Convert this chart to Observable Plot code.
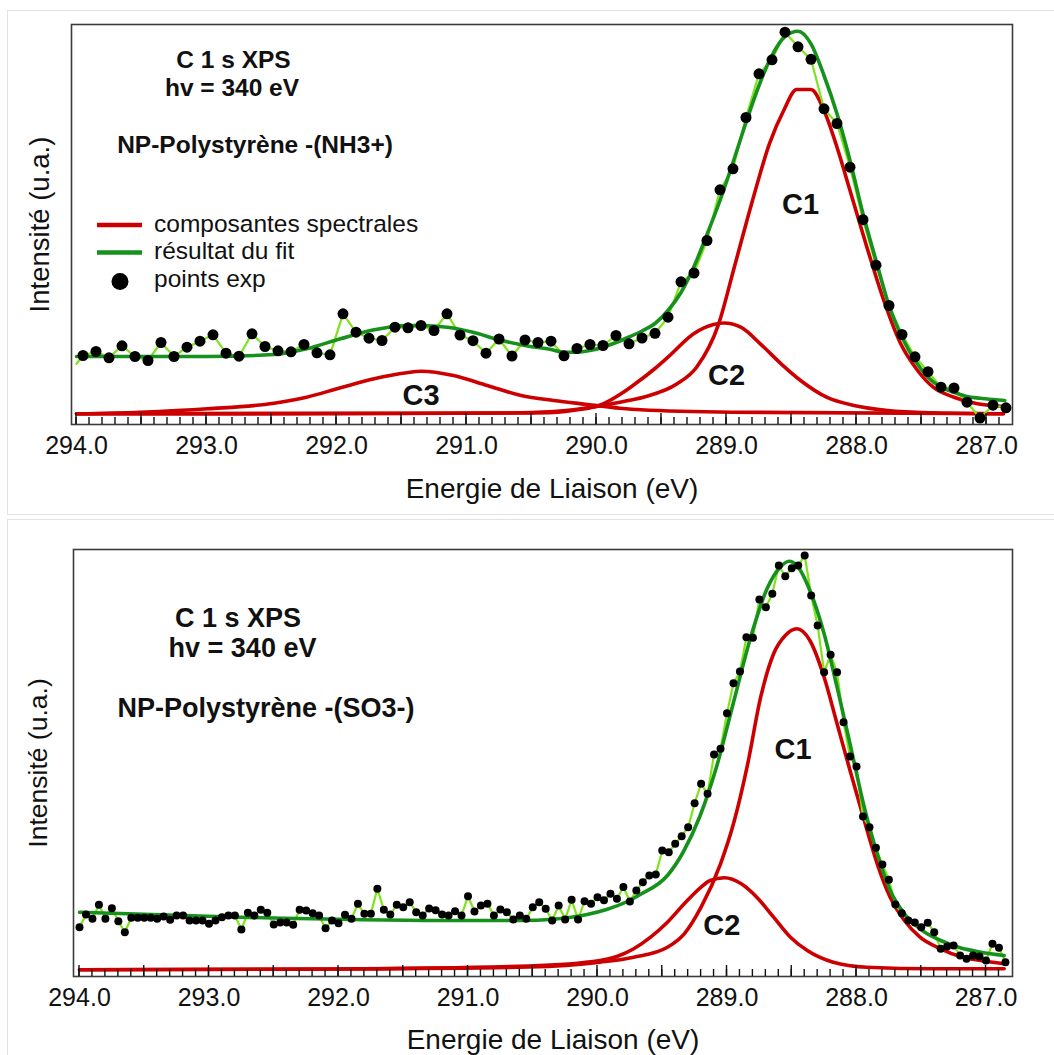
<!DOCTYPE html>
<html>
<head>
<meta charset="utf-8">
<script src="https://cdn.jsdelivr.net/npm/d3@7"></script>
<script src="https://cdn.jsdelivr.net/npm/@observablehq/plot@0.6"></script>
<style>
  html, body { margin: 0; padding: 0; background: #fff; overflow: hidden; }
  #wrap { position: relative; width: 1054px; height: 1055px; overflow: hidden; }
  .box { position: absolute; left: 7px; width: 1060px; border: 1px solid #e2e2e2; box-sizing: border-box; }
  #wrap svg { position: absolute; left: 0; }
</style>
</head>
<body>
<div id="wrap">
  <div class="box" style="top:10px;height:505px;"></div>
  <div class="box" style="top:519px;height:600px;"></div>
</div>
<script>
// ---------------- DATA ----------------
const axisTitle = "Energie de Liaison (eV)";
const yTitle = "Intensité (u.a.)";
const legendLabels = ["composantes spectrales", "résultat du fit", "points exp"];
const headerTop = ["C 1 s XPS", "hv = 340 eV", "NP-Polystyrène -(NH3+)"];
const headerBot = ["C 1 s XPS", "hv = 340 eV", "NP-Polystyrène -(SO3-)"];

const tickLabels = [294, 293, 292, 291, 290, 289, 288, 287];
const majorTicks = [294, 293.5, 293, 292.5, 292, 291.5, 291, 290.5, 290, 289.5, 289, 288.5, 288, 287.5, 287];
const minorTicks = [294.0, 293.9, 293.8, 293.7, 293.6, 293.5, 293.4, 293.3, 293.2, 293.1,
  293.0, 292.9, 292.8, 292.7, 292.6, 292.5, 292.4, 292.3, 292.2, 292.1,
  292.0, 291.9, 291.8, 291.7, 291.6, 291.5, 291.4, 291.3, 291.2, 291.1,
  291.0, 290.9, 290.8, 290.7, 290.6, 290.5, 290.4, 290.3, 290.2, 290.1,
  290.0, 289.9, 289.8, 289.7, 289.6, 289.5, 289.4, 289.3, 289.2, 289.1,
  289.0, 288.9, 288.8, 288.7, 288.6, 288.5, 288.4, 288.3, 288.2, 288.1,
  288.0, 287.9, 287.8, 287.7, 287.6, 287.5, 287.4, 287.3, 287.2, 287.1,
  287.0, 286.9];

// Top panel: NP-Polystyrène -(NH3+)
const eTop = [293.95, 293.85, 293.75, 293.65, 293.55, 293.45, 293.35, 293.25, 293.15, 293.05,
  292.95, 292.85, 292.75, 292.65, 292.55, 292.45, 292.35, 292.25, 292.15, 292.05,
  291.95, 291.85, 291.75, 291.65, 291.55, 291.45, 291.35, 291.25, 291.15, 291.05,
  290.95, 290.85, 290.75, 290.65, 290.55, 290.45, 290.35, 290.25, 290.15, 290.05,
  289.95, 289.85, 289.75, 289.65, 289.55, 289.45, 289.35, 289.25, 289.15, 289.05,
  288.95, 288.85, 288.75, 288.65, 288.55, 288.45, 288.35, 288.25, 288.15, 288.05,
  287.95, 287.85, 287.75, 287.65, 287.55, 287.45, 287.35, 287.25, 287.15, 287.05,
  286.95, 286.85];
const vTop = [69, 73, 66.7, 78.7, 68, 64, 82, 68, 77.3, 83.3,
  89.7, 71.3, 68.3, 90.7, 78, 73.7, 72.7, 80, 71.7, 69.7,
  110.7, 92.3, 86.3, 84, 97.3, 96.7, 99, 94, 110.7, 89.5,
  83.8, 71.3, 85.5, 68.5, 84.5, 82, 83.3, 68.7, 76, 80,
  79, 89, 80.7, 86.5, 91.2, 107.3, 142.7, 151.5, 184, 234.7,
  255.7, 307, 350.7, 364.7, 392.3, 377.7, 365.2, 315.7, 301, 257.3,
  204.8, 159.3, 119, 90, 67.7, 52.8, 37.3, 36.5, 22.3, 6.5,
  19.3, 16.7];
// the connecting line of the top spectrum starts at the frame edge
const leadTop = [294.0, 60.7];
const fitTop = [[294.00,68],[293.50,68],[293.00,68],[292.48,70],[292.23,75.7],[291.97,85.7],[291.71,94.7],
  [291.46,99],[291.35,99],[291.15,97.3],[290.95,92.3],[290.75,84.7],[290.55,79],[290.35,75],[290.25,72.3],
  [290.15,72.3],[290.05,74],[289.95,77.3],[289.85,82],[289.75,87.5],[289.65,93.5],[289.55,101],[289.45,114],
  [289.35,132],[289.25,158],[289.15,190],[289.05,224],[288.95,262],[288.85,302],[288.75,339],[288.65,369],
  [288.55,388],[288.45,393.3],[288.35,380.7],[288.25,349],[288.15,310.7],[288.05,264],[287.95,210.7],
  [287.85,164],[287.75,119],[287.65,87.3],[287.55,64],[287.45,47.3],[287.35,37.3],[287.25,32.3],
  [287.15,28],[287.05,26.3],[286.95,25],[286.86,24]];
const c1Top = [[294.00,10.7],[290.74,11.5],[290.33,13],[290.00,18],[289.82,22.3],[289.64,27.3],[289.38,40.7],
  [289.23,57.3],[289.06,100.7],[288.94,157.3],[288.80,224],[288.67,280.7],[288.56,314],[288.46,335],[288.35,335],
  [288.25,314],[288.15,277.3],[288.05,234],[287.92,177.3],[287.79,124],[287.66,80.7],[287.53,54],[287.41,37.3],
  [287.25,27.3],[287.07,20.7],[286.86,18]];
const c2Top = [[294.00,10.7],[291.51,11],[290.58,11.5],[290.33,12],[290.16,14.5],[289.97,19.5],[289.82,30],
  [289.72,39],[289.55,56],[289.45,67.3],[289.25,91],[289.10,100],[289.02,101.5],[288.89,97.3],[288.74,80.7],
  [288.58,60.7],[288.43,44],[288.23,27.3],[288.02,19],[287.76,14],[287.41,11.7],[286.87,10.7]];
const c3Top = [[294.00,10.7],[293.51,12.3],[292.99,15.7],[292.48,21.3],[292.23,27.3],[291.97,36.7],[291.71,45.7],
  [291.46,51.7],[291.35,53.3],[291.10,49],[290.84,39],[290.58,29],[290.33,24],[290.07,20],[289.82,16.3],
  [289.66,14.7],[288.95,12.3],[286.87,10.7]];

// Bottom panel: NP-Polystyrène -(SO3-)
const eBot = [294.00,293.95,293.90,293.85,293.80,293.75,293.70,293.65,293.60,293.55,293.50,293.45,293.40,293.35,293.30,293.25,293.20,293.15,293.10,293.05,
  293.00,292.95,292.90,292.85,292.80,292.75,292.70,292.65,292.60,292.55,292.50,292.45,292.40,292.35,292.30,292.25,292.20,292.15,292.10,292.05,
  292.00,291.95,291.90,291.85,291.80,291.75,291.70,291.65,291.60,291.55,291.50,291.45,291.40,291.35,291.30,291.25,291.20,291.15,291.10,291.05,
  291.00,290.95,290.90,290.85,290.80,290.75,290.70,290.65,290.60,290.55,290.50,290.45,290.40,290.35,290.30,290.25,290.20,290.15,290.10,290.05,
  290.00,289.95,289.90,289.85,289.80,289.75,289.70,289.65,289.60,289.55,289.50,289.45,289.40,289.35,289.30,289.25,289.20,289.15,289.10,289.05,
  289.00,288.95,288.90,288.85,288.80,288.75,288.70,288.65,288.60,288.55,288.50,288.45,288.40,288.35,288.30,288.25,288.20,288.15,288.10,288.05,
  288.00,287.95,287.90,287.85,287.80,287.75,287.70,287.65,287.60,287.55,287.50,287.45,287.40,287.35,287.30,287.25,287.20,287.15,287.10,287.05,
  287.00,286.95,286.90,286.85];
const vBot = [49.3, 62, 57.7, 71.7, 57.7, 68.3, 55.3, 44.3, 58.7, 58.7, 58.7, 58.7, 57.7, 60, 56.7, 61, 61, 56, 56, 56,
  52.7, 56, 59.3, 61, 61, 47, 63.7, 61, 66.7, 63.7, 52, 54, 54, 51.7, 66.7, 66, 63.3, 61, 48.3, 56,
  53.3, 61.7, 57.7, 72.7, 62.7, 62.7, 87.7, 66.7, 62, 71.7, 69.3, 74.3, 64.3, 61, 68, 66.3, 62, 61, 65.3, 61,
  80.3, 65, 71, 72.7, 61, 67, 64.3, 57, 61, 57.7, 69.3, 74.3, 67.7, 56, 71, 57, 76.7, 57, 75.3, 72.7,
  79.3, 76.3, 82.7, 77.7, 89.5, 75, 86, 94.3, 101, 102, 126, 124.3, 132.7, 140.3, 149.3, 173.3, 192.7, 182.7, 222, 227.7,
  263.3, 293.3, 305, 339.3, 338.7, 377, 369.3, 382.7, 411, 400.3, 408.3, 411, 421, 381, 351, 304.3, 321.7, 304.3, 254.3, 220,
  210, 160, 149.3, 128.7, 112, 96.7, 72, 63.3, 56, 54, 49.3, 53.7, 44.3, 27.7, 30, 31, 21, 17.7, 21, 20,
  16, 32.7, 28.7, 14.3];
const fitBot = [[294.00,64.3],[292.76,59.3],[291.21,56],[290.59,56],[290.34,57.3],[290.08,62],[289.93,67],
  [289.77,75],[289.67,82],[289.46,101],[289.34,124],[289.21,160],[289.08,210],[288.95,274],
  [288.82,338],[288.69,388],[288.59,409.3],[288.52,415.3],[288.46,411],[288.36,386],[288.25,342.7],
  [288.15,289.3],[288.05,232.7],[287.94,169.3],[287.84,122.7],[287.74,86],[287.63,62.7],[287.51,47.7],
  [287.35,36],[287.20,28.7],[287.04,24.3],[286.86,21]];
const c1Bot = [[294.00,6.7],[292.00,7.5],[290.53,9.5],[289.98,14.3],[289.72,19.3],[289.46,29.3],[289.33,42.7],
  [289.20,69.3],[289.05,112.7],[288.95,152.7],[288.84,212.7],[288.74,279.3],[288.64,322.7],[288.55,341],
  [288.46,347.7],[288.36,336],[288.25,299.3],[288.15,252.7],[288.05,206],[287.94,156],[287.84,112.7],
  [287.74,79.3],[287.63,56],[287.51,39.3],[287.35,27.7],[287.20,20],[287.04,16],[286.86,12.7]];
const c2Bot = [[294.00,6.7],[292.00,7.5],[290.53,10.5],[289.98,16],[289.85,20],[289.72,27.7],[289.59,39.3],
  [289.46,54.3],[289.33,72.7],[289.20,89.3],[289.13,96],[289.02,98.7],[288.89,92.7],[288.77,79.3],
  [288.64,59.3],[288.51,39.3],[288.38,26],[288.18,14.3],[287.92,9.3],[287.40,7.7],[286.86,7.7]];

// ---------------- DRAW ----------------
(function () {
const FONT = "'Liberation Sans', Arial, Helvetica, sans-serif";
const RED = "#cc0000", FIT = "#15911c", LINEG = "#7fe31a", INK = "#111";
const pts = (E, V) => E.map((e, i) => ({e, v: V[i]}));
const crv = a => a.map(([e, v]) => ({e, v}));

function panel(o) {
  const P = pts(o.E, o.V);
  const L = o.lead ? [{e: o.lead[0], v: o.lead[1]}, ...P] : P;
  const svg = Plot.plot({
    width: 1054, height: o.height,
    marginLeft: o.mL, marginRight: 42, marginTop: o.mT, marginBottom: o.mB,
    style: {background: "transparent", overflow: "visible", fontFamily: FONT},
    x: {domain: [294, 287], range: o.xRange, axis: null},
    y: {domain: [0, o.yMax], range: [o.height - o.mB, o.mT], axis: null},
    marks: [
      ...o.comps.map(c => Plot.line(crv(c), {x: "e", y: "v", curve: "monotone-x", stroke: RED, strokeWidth: 3.6})),
      Plot.line(L, {x: "e", y: "v", stroke: LINEG, strokeWidth: 2.2}),
      Plot.line(crv(o.fit), {x: "e", y: "v", curve: "monotone-x", stroke: FIT, strokeWidth: 3.6}),
      Plot.dot(P, {x: "e", y: "v", r: o.r, fill: "#000", stroke: null}),
      Plot.frame({stroke: "#3c3c3c", strokeWidth: 1.6}),
      Plot.text(tickLabels, {x: d => d, frameAnchor: "bottom", dy: 21, text: d => d.toFixed(1),
        fontSize: 25, fill: INK, lineAnchor: "middle"}),
      Plot.text([axisTitle], {frameAnchor: "bottom", dx: 10, dy: o.titleDy, fontSize: 28, fill: INK, lineAnchor: "middle"}),
      Plot.text([yTitle], {frameAnchor: "left", dx: o.yDx, rotate: -90, fontSize: o.ySize, fill: INK,
        textAnchor: "middle", lineAnchor: "middle"}),
      ...o.header.map((h, i) => Plot.text([h], {frameAnchor: "top-left", dx: o.hPos[i][0], dy: o.hPos[i][1],
        fontSize: o.hSize, fontWeight: "bold", fill: INK, textAnchor: "middle", lineAnchor: "middle"})),
      Plot.text(o.peakLabels, {x: "e", y: "v", text: "t", fontSize: 29, fontWeight: "bold", fill: INK,
        textAnchor: "middle", lineAnchor: "middle"})
    ]
  });
  // inward ticks along the bottom edge of the frame, placed with Plot's own x scale
  const sx = svg.scale("x");
  const y0 = o.height - o.mB;
  const g = d3.select(svg).append("g").attr("stroke", "#111").attr("stroke-width", 1.4);
  [[minorTicks, 7], [majorTicks, 11]].forEach(([ticks, len]) => {
    ticks.forEach(t => {
      const px = sx.apply(t);
      g.append("line").attr("x1", px).attr("x2", px).attr("y1", y0).attr("y2", y0 - len);
    });
  });
  return svg;
}

const wrap = document.getElementById("wrap");

const topSvg = panel({
  E: eTop, V: vTop, lead: leadTop, fit: fitTop, comps: [c3Top, c2Top, c1Top],
  height: 518, mT: 24, mB: 94, mL: 71, xRange: [76, 986], yMax: 400, r: 5.5,
  titleDy: 65, yDx: -31, ySize: 27.5,
  header: headerTop, hSize: 24.5, hPos: [[162, 36], [160.5, 64], [183.5, 121]],
  peakLabels: [{e: 288.43, v: 220, t: "C1"}, {e: 289.0, v: 48.6, t: "C2"}, {e: 291.35, v: 28.6, t: "C3"}]
});
topSvg.style.top = "0px";
wrap.appendChild(topSvg);

// legend for the top panel
const lg = d3.select(topSvg).append("g").attr("font-family", FONT).attr("font-size", 24.5)
  .attr("fill", INK).attr("text-anchor", "start");
lg.append("line").attr("x1", 97).attr("x2", 142).attr("y1", 225).attr("y2", 225).attr("stroke", RED).attr("stroke-width", 4.5);
lg.append("line").attr("x1", 97).attr("x2", 142).attr("y1", 252.5).attr("y2", 252.5).attr("stroke", FIT).attr("stroke-width", 4.5);
lg.append("circle").attr("cx", 120).attr("cy", 281.5).attr("r", 8.5).attr("fill", "#000");
legendLabels.forEach((t, i) => lg.append("text").attr("x", 154).attr("y", 232 + i * 27.3).text(t));

const botSvg = panel({
  E: eBot, V: vBot, fit: fitBot, comps: [c2Bot, c1Bot],
  height: 536, mT: 30, mB: 79, mL: 73, xRange: [79, 985.5], yMax: 427, r: 4,
  titleDy: 64, yDx: -35, ySize: 26.5,
  header: headerBot, hSize: 27, hPos: [[164.5, 69], [169, 99], [192.5, 158.5]],
  peakLabels: [{e: 288.49, v: 227, t: "C1"}, {e: 289.04, v: 50.6, t: "C2"}]
});
botSvg.style.top = "519px";
wrap.appendChild(botSvg);
})();
</script>
</body>
</html>
